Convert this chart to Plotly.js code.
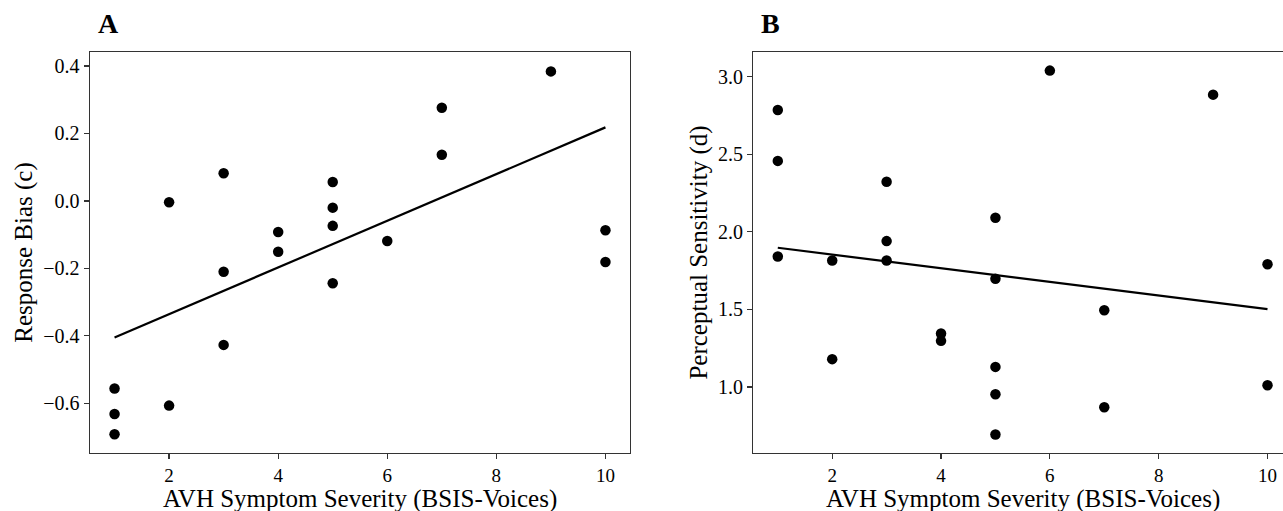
<!DOCTYPE html>
<html>
<head>
<meta charset="utf-8">
<script src="https://cdn.plot.ly/plotly-3.0.1.min.js"></script>
<style>
html, body { margin: 0; padding: 0; overflow: hidden; background: #fff; }
#chart { width: 1300px; height: 511px; }
</style>
</head>
<body>
<div id="chart"></div>
<script>
// Panel A: AVH severity vs response bias (c)
const severityA = [1, 1, 1, 2, 2, 3, 3, 3, 4, 4, 5, 5, 5, 5, 6, 7, 7, 9, 10, 10];
const biasA = [-0.556, -0.632, -0.692, -0.004, -0.607, 0.082, -0.210, -0.427, -0.092, -0.151,
               0.056, -0.020, -0.074, -0.244, -0.119, 0.276, 0.137, 0.384, -0.087, -0.181];
const fitXA = [1, 10];
const fitYA = [-0.405, 0.218];

// Panel B: AVH severity vs perceptual sensitivity (d)
const severityB = [1, 1, 1, 2, 2, 3, 3, 3, 4, 4, 5, 5, 5, 5, 5, 6, 7, 7, 9, 10, 10];
const sensB = [2.785, 2.457, 1.841, 1.815, 1.179, 2.323, 1.940, 1.815, 1.344, 1.297,
               2.090, 1.697, 1.129, 0.953, 0.693, 3.039, 1.494, 0.869, 2.884, 1.791, 1.011];
const fitXB = [1, 10];
const fitYB = [1.897, 1.502];

const xTicks = [2, 4, 6, 8, 10];
const yTicksA = [-0.6, -0.4, -0.2, 0.0, 0.2, 0.4];
const yTickTextA = ['\u22120.6', '\u22120.4', '\u22120.2', '0.0', '0.2', '0.4'];
const yTicksB = [1.0, 1.5, 2.0, 2.5, 3.0];
const yTickTextB = ['1.0', '1.5', '2.0', '2.5', '3.0'];
const xTitle = 'AVH Symptom Severity (BSIS-Voices)';
const yTitleA = 'Response Bias (c)';
const yTitleB = 'Perceptual Sensitivity (d)';

const W = 1300;
const font = 'Liberation Serif, Times New Roman, serif';

const marker = { color: '#000', size: 10.5 };
const traces = [
  { x: severityA, y: biasA, type: 'scatter', mode: 'markers', marker: marker, xaxis: 'x', yaxis: 'y', hoverinfo: 'skip' },
  { x: fitXA, y: fitYA, type: 'scatter', mode: 'lines', line: { color: '#000', width: 2.2 }, xaxis: 'x', yaxis: 'y', hoverinfo: 'skip' },
  { x: severityB, y: sensB, type: 'scatter', mode: 'markers', marker: marker, xaxis: 'x2', yaxis: 'y2', hoverinfo: 'skip' },
  { x: fitXB, y: fitYB, type: 'scatter', mode: 'lines', line: { color: '#000', width: 2.2 }, xaxis: 'x2', yaxis: 'y2', hoverinfo: 'skip' }
];

function xAxis(domain, anchor) {
  return {
    domain: domain, anchor: anchor, range: [0.55, 10.45],
    tickvals: xTicks, ticktext: xTicks.map(String),
    ticks: 'outside', ticklen: 5, tickwidth: 1.2, tickcolor: '#333',
    showline: true, linecolor: '#333', linewidth: 1.4, mirror: true,
    showgrid: false, zeroline: false,
    tickfont: { family: font, size: 19, color: '#000' }
  };
}
function yAxis(range, vals, text, title, anchor) {
  return {
    domain: [0, 1], anchor: anchor, range: range,
    tickvals: vals, ticktext: text,
    ticks: 'outside', ticklen: 5, tickwidth: 1.2, tickcolor: '#333',
    showline: true, linecolor: '#333', linewidth: 1.4, mirror: true,
    showgrid: false, zeroline: false,
    tickfont: { family: font, size: 20, color: '#000' },
    title: { text: title, font: { family: font, size: 25, color: '#000' }, standoff: 3 }
  };
}

const xTitleY = -0.115;
const layout = {
  width: W, height: 511,
  margin: { l: 0, r: 0, t: 52, b: 58.3 },
  paper_bgcolor: '#fff', plot_bgcolor: '#fff',
  showlegend: false,
  xaxis: xAxis([90 / W, 630 / W], 'y'),
  yaxis: yAxis([-0.7475, 0.4415], yTicksA, yTickTextA, yTitleA, 'x'),
  xaxis2: xAxis([753.3 / W, 1292 / W], 'y2'),
  yaxis2: yAxis([0.574, 3.159], yTicksB, yTickTextB, yTitleB, 'x2'),
  annotations: [
    { text: '<b>A</b>', xref: 'paper', yref: 'paper', x: 108 / W, y: 1.07, xanchor: 'center', yanchor: 'middle', showarrow: false, font: { family: font, size: 28, color: '#000' } },
    { text: '<b>B</b>', xref: 'paper', yref: 'paper', x: 770 / W, y: 1.07, xanchor: 'center', yanchor: 'middle', showarrow: false, font: { family: font, size: 28, color: '#000' } },
    { text: xTitle, xref: 'x domain', yref: 'paper', x: 0.5, y: xTitleY, xanchor: 'center', yanchor: 'middle', showarrow: false, font: { family: font, size: 25, color: '#000' } },
    { text: xTitle, xref: 'x2 domain', yref: 'paper', x: 0.5, y: xTitleY, xanchor: 'center', yanchor: 'middle', showarrow: false, font: { family: font, size: 25, color: '#000' } }
  ]
};

Plotly.newPlot('chart', traces, layout, { staticPlot: true, displayModeBar: false });
</script>
</body>
</html>
